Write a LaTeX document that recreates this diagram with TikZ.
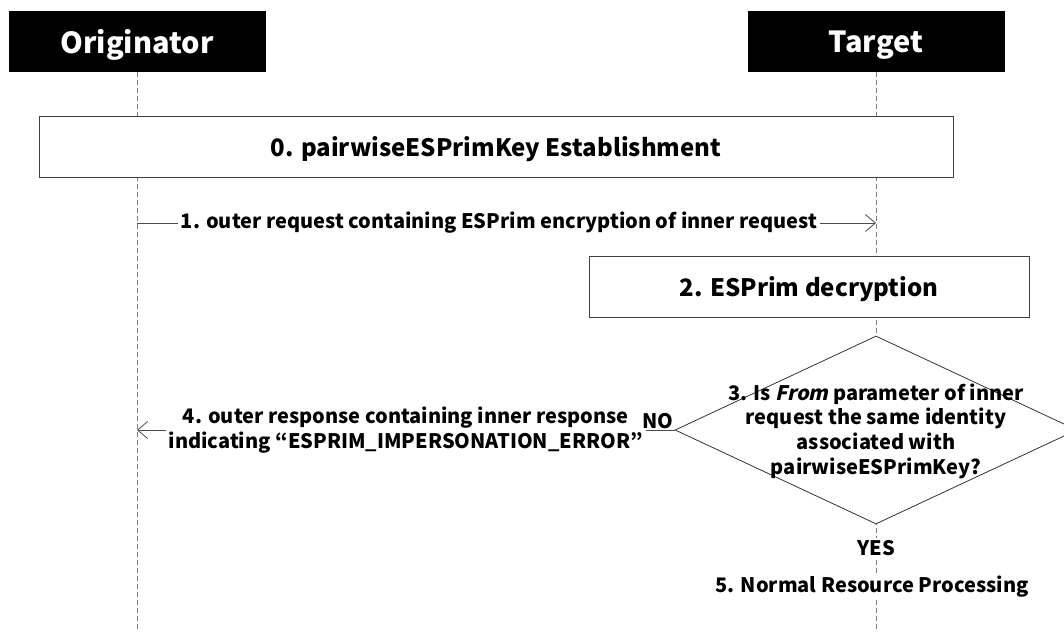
\documentclass[tikz,border=0pt]{standalone}
\usepackage{fontspec}
\setmainfont{Noto Sans CJK KR}
\newfontfamily\slantfont{Noto Sans CJK KR}[UprightFeatures={FakeSlant=0.22}, BoldFeatures={FakeSlant=0.22}]
\usetikzlibrary{shapes.geometric,arrows.meta}

\begin{document}
\begin{tikzpicture}[x=1pt, y=-1pt,
            every node/.append style = {font=\bfseries\fontsize{20}{24.7}\selectfont, inner sep=0pt},
            actor/.style = {fill=black, text=white, minimum width=257pt, minimum height=61pt, text depth=0pt,
                font=\bfseries\fontsize{29}{36}\selectfont},
            stepbox/.style = {draw=black!75, fill=white, minimum height=61pt, line width=0.8pt, text depth=0pt,
                font=\bfseries\fontsize{24}{30}\selectfont},
            lifeline/.style = {draw=black!50, dash pattern=on 5pt off 3pt, line width=0.8pt},
            msg/.style = {draw=black!70, line width=0.8pt, -{Straight Barb[length=10pt,width=17pt]}},
            msgtext/.style = {fill=white, align=center, inner xsep=3pt, inner ysep=1pt}]
    \useasboundingbox (0,0) rectangle (1064,632);
    % lifelines
    \node[actor] (orig) at (137,41.5) {Originator};
    \node[actor] (tgt) at (876,41.5) {Target};
    \coordinate (origend) at (137,632);
    \coordinate (tgtend) at (876,632);
    \draw[lifeline] (orig.south) -- (origend);
    \draw[lifeline] (tgt.south) -- (tgtend);
    % steps
    \node[stepbox, minimum width=914pt] (est) at (496,146.5) {0. pairwiseESPrimKey Establishment};
    \coordinate (req0) at (137,223);
    \coordinate (req1) at (876,223);
    \draw[msg] (req0) -- node[msgtext, pos=0.49] (reqtext) {1. outer request containing ESPrim encryption of inner request} (req1);
    \node[stepbox, minimum width=440pt] (dec) at (809,286.5) {2. ESPrim decryption};
    \node[diamond, draw=black!80, fill=white, line width=0.8pt, minimum width=402pt, minimum height=188pt] (chk) at (876,430) {};
    \node[align=center] (chktext) at (876,431) {3. Is {\slantfont From} parameter of inner\\request the same identity\\associated with\\pairwiseESPrimKey?};
    \coordinate (resp) at (137,430);
    \draw[msg] (chk.west) -- node[msgtext] (resptext) {4. outer response containing inner response\\indicating “ESPRIM\_IMPERSONATION\_ERROR”} (resp);
    \node[anchor=south east, inner sep=1pt] (no) at (chk.west) {NO};
    \node[fill=white, inner sep=2pt] (yes) at (876,548) {YES};
    \node[fill=white, inner sep=2pt] (normal) at (872,587) {5. Normal Resource Processing};
\end{tikzpicture}
\end{document}
